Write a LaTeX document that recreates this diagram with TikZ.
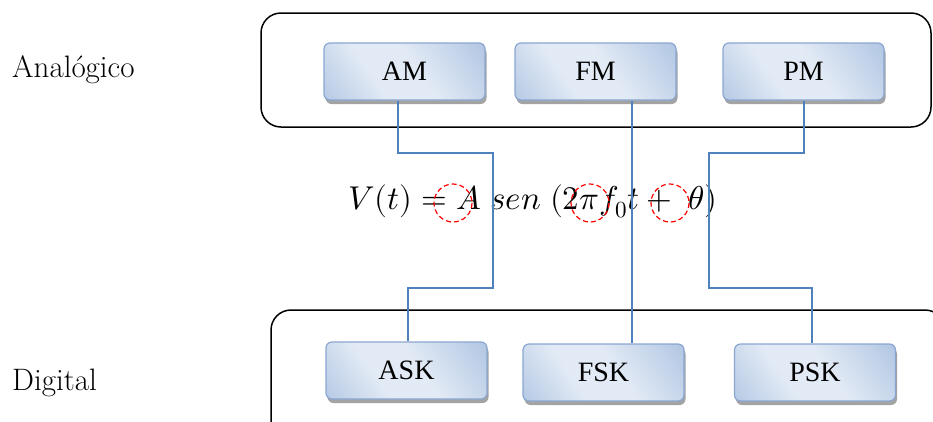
\documentclass[tikz,border=0pt]{standalone}
\usepackage{fontspec}
\usepackage{unicode-math}
\setmathfont{Latin Modern Math}
\newfontfamily\nodefont{Liberation Serif}
\usetikzlibrary{shadows}
\definecolor{boxlight}{HTML}{E2EAF5}
\definecolor{boxdark}{HTML}{98B4DA}
\definecolor{boxedge}{HTML}{8AA6D0}
\definecolor{conncol}{HTML}{4F81BD}
\pgfdeclarehorizontalshading{boxshade}{100bp}{color(0bp)=(boxdark); color(38bp)=(boxlight); color(55bp)=(boxlight); color(100bp)=(boxdark)}
\tikzset{
  modbox/.style={draw=boxedge, line width=1.2pt, rounded corners=6pt,
    shading=boxshade, shading angle=35,
    minimum width=161pt, minimum height=57pt, inner sep=0pt,
    font=\nodefont\fontsize{28}{32}\selectfont,
    drop shadow={shadow xshift=1.5pt, shadow yshift=-4pt, fill=black!45, opacity=0.8}},
  group/.style={draw=black, line width=1.5pt, rounded corners=20pt},
  conn/.style={draw=conncol, line width=1.8pt},
  marker/.style={draw=red, line width=1.2pt, dash pattern=on 5pt off 3pt},
  side/.style={anchor=base west, inner sep=0pt, font=\fontsize{31}{36}\selectfont}
}
\begin{document}
\begin{tikzpicture}[x=1pt, y={(0pt,-1pt)}]
\useasboundingbox (0,0) rectangle (933,421);
% groups
\draw[group] (261,13) rectangle (931,127);
\draw[group] (271,310) rectangle (945,440);
% side labels
\node[side] (lana) at (12,77) {Analógico};
\node[side] (ldig) at (12,390) {Digital};
% nodes
\node[modbox] (AM) at (404.5,71.5) {AM};
\node[modbox] (FM) at (595.5,71.5) {FM};
\node[modbox] (PM) at (803.5,71.5) {PM};
\node[modbox] (ASK) at (406.5,370.5) {ASK};
\node[modbox] (FSK) at (603.5,372.5) {FSK};
\node[modbox] (PSK) at (815,372.5) {PSK};
% connector coordinates
\coordinate (a1) at (398,153);
\coordinate (a2) at (493,288);
\coordinate (a3) at (408,288);
\coordinate (f1) at (632,153);
\coordinate (p1) at (804,153);
\coordinate (p2) at (709,288);
\coordinate (p3) at (812,288);
% equation
\node[inner sep=0pt, font=\fontsize{33}{38}\selectfont] (eq) at (533,201) {$V(t) = A\;sen\;(2\pi f_0 t+\;\theta)$};
% connectors
\draw[conn] (AM.south -| a1) -- (a1) -- (a1 -| a2) -- (a2) -- (a3) -- (ASK.north -| a3);
\draw[conn] (FM.south -| f1) -- (FSK.north -| f1);
\draw[conn] (PM.south -| p1) -- (p1) -- (p1 -| p2) -- (p2) -- (p3) -- (PSK.north -| p3);
% markers
\draw[marker] (453,203) circle (19);
\draw[marker] (590,203) circle (19);
\draw[marker] (670,203) circle (19);
\end{tikzpicture}
\end{document}
